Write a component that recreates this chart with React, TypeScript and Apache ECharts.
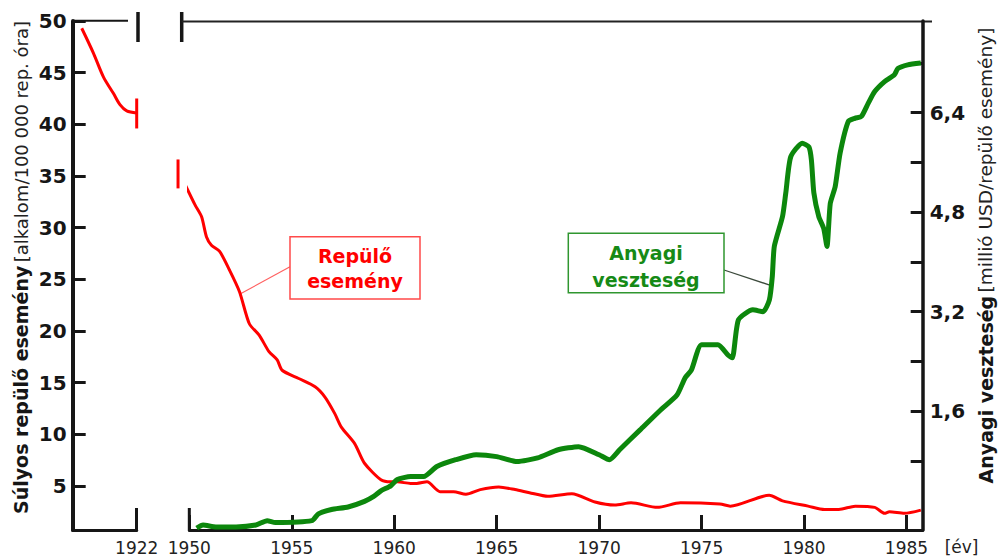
import React, { useEffect, useRef } from 'react';
import * as echarts from 'echarts';

const FONT = '"DejaVu Sans", Verdana, sans-serif';

// Early (pre-break) section of the accident rate curve
const earlyYears = [1919.08, 1919.7, 1920.23, 1920.76, 1921.11, 1921.47, 1922.0];
const earlyRate = [49.3, 46.9, 44.6, 43.0, 41.9, 41.3, 41.1];

// Accident rate (left axis) 1950–1985
const rateYears = [
  1949.45, 1950.28, 1950.6, 1950.84, 1951.08, 1951.48, 1951.96, 1952.45, 1952.93, 1953.41,
  1953.89, 1954.29, 1954.53, 1955.34, 1956.14, 1956.62, 1957.1, 1957.42, 1958.07, 1958.55,
  1959.35, 1959.83, 1960.15, 1960.8, 1961.1, 1961.6, 1962.24, 1962.9, 1963.5, 1964.2,
  1965.1, 1965.9, 1966.6, 1967.5, 1968.67, 1969.8, 1970.76, 1971.56, 1972.84, 1973.97,
  1975.9, 1976.4, 1978.3, 1978.95, 1980.2, 1981.0, 1981.7, 1982.5, 1983.45, 1983.93,
  1984.17, 1984.9, 1985.7,
];
const rateValues = [
  35.6, 32.2, 31.05, 29.1, 28.3, 27.7, 25.9, 23.8, 20.7, 19.6,
  18.0, 17.2, 16.2, 15.4, 14.6, 13.6, 12.0, 10.7, 9.1, 7.2,
  5.6, 5.4, 5.4, 5.25, 5.25, 5.4, 4.45, 4.45, 4.2, 4.65,
  4.9, 4.65, 4.35, 4.0, 4.25, 3.45, 3.15, 3.37, 2.93, 3.37,
  3.25, 3.05, 4.1, 3.56, 3.05, 2.73, 2.73, 3.05, 2.93, 2.35,
  2.5, 2.35, 2.66,
];

// Material loss (right axis)
const lossYears = [
  1950.36, 1950.67, 1951.3, 1952.28, 1953.25, 1953.8, 1954.2, 1955.98, 1956.3, 1956.94,
  1957.75, 1958.55, 1959.0, 1959.35, 1959.83, 1960.15, 1960.8, 1961.44, 1962.08, 1963,
  1964, 1965, 1966, 1967, 1968, 1969, 1970, 1970.5, 1971, 1972,
  1973, 1973.8, 1974.2, 1974.5, 1975, 1975.8, 1976.3, 1976.5, 1976.8, 1977.5,
  1978, 1978.31, 1978.45, 1978.55, 1978.95, 1979.11, 1979.35, 1979.91, 1980.24, 1980.36,
  1980.48, 1980.72, 1980.96, 1981.12, 1981.28, 1981.52, 1981.76, 1982.16, 1982.48, 1982.8,
  1983.13, 1983.45, 1983.93, 1984.41, 1984.58, 1985.06, 1985.7,
];
const lossValues = [
  -0.28, -0.23, -0.26, -0.26, -0.23, -0.16, -0.19, -0.16, -0.05, 0.02,
  0.06, 0.15, 0.23, 0.32, 0.4, 0.5, 0.55, 0.55, 0.71, 0.82,
  0.9, 0.87, 0.79, 0.85, 0.98, 1.03, 0.9, 0.82, 0.98, 1.3,
  1.62, 1.86, 2.14, 2.26, 2.67, 2.67, 2.5, 2.46, 3.07, 3.23,
  3.2, 3.39, 3.76, 4.25, 4.73, 5.11, 5.69, 5.91, 5.85, 5.64,
  5.11, 4.73, 4.54, 4.25, 4.94, 5.21, 5.75, 6.26, 6.31, 6.34,
  6.55, 6.74, 6.9, 7.01, 7.11, 7.17, 7.2,
];

const leftTicks = [5, 10, 15, 20, 25, 30, 35, 40, 45, 50];
const rightTicks = [0.8, 1.6, 2.4, 3.2, 4.0, 4.8, 5.6, 6.4, 7.2];
const rightLabels = [1.6, 3.2, 4.8, 6.4];
const yearTicks = [1950, 1955, 1960, 1965, 1970, 1975, 1980, 1985];
const earlyTicks = [1922];

const BLACK = '#161616';
const RED = '#ff0000';
const GREEN = '#0c870c';

export default function App() {
  const ref = useRef<HTMLDivElement>(null);
  useEffect(() => {
    const chart = echarts.init(ref.current as HTMLDivElement, null, { renderer: 'svg' });
    const pair = (xs: number[], ys: number[]) => xs.map((x, i) => [x, ys[i]]);
    const tickLine = { lineStyle: { color: BLACK, width: 3 } };

    chart.setOption({
      animation: false,
      backgroundColor: '#ffffff',
      grid: [
        { left: 72.7, top: 21, width: 64, height: 509 },
        { left: 189.3, top: 21, width: 742.7, height: 509 },
      ],
      xAxis: [
        {
          gridIndex: 0, type: 'value', min: 1918.6, max: 1922,
          axisLine: { show: true, onZero: false, lineStyle: { color: BLACK, width: 3 } },
          axisTick: { show: true, inside: true, length: 22, customValues: earlyTicks, ...tickLine },
          axisLabel: { customValues: earlyTicks, fontFamily: FONT, fontSize: 17, color: '#222', margin: 9, formatter: (v: number) => String(v) },
          splitLine: { show: false },
        },
        {
          gridIndex: 1, type: 'value', min: 1950, max: 1985.79,
          axisLine: { show: true, onZero: false, lineStyle: { color: BLACK, width: 3 } },
          axisTick: { show: true, inside: true, length: 15, customValues: yearTicks, ...tickLine },
          axisLabel: { customValues: yearTicks, fontFamily: FONT, fontSize: 17, color: '#222', margin: 9, formatter: (v: number) => String(v) },
          splitLine: { show: false },
          name: '[év]', nameLocation: 'end', nameGap: 22,
          nameTextStyle: { fontFamily: FONT, fontSize: 17, color: '#222', verticalAlign: 'top', padding: [8, 0, 0, 0] },
        },
      ],
      yAxis: [
        {
          gridIndex: 0, type: 'value', min: 0.74, max: 50, position: 'left',
          axisLine: { show: true, onZero: false, lineStyle: { color: BLACK, width: 4 } },
          axisTick: { show: true, inside: true, length: 13, customValues: leftTicks, ...tickLine },
          axisLabel: { customValues: leftTicks, fontFamily: FONT, fontSize: 20, fontWeight: 'bold', color: BLACK, margin: 6 },
          splitLine: { show: false },
          name: '{b|Súlyos repülő esemény} {n|[alkalom/100 000 rep. óra]}',
          nameLocation: 'middle', nameRotate: 90, nameGap: 42,
          nameTextStyle: {
            color: BLACK,
            padding: [0, 0, 0, 16],
            rich: {
              b: { fontFamily: FONT, fontSize: 19, fontWeight: 'bold', color: BLACK },
              n: { fontFamily: FONT, fontSize: 18, color: '#222' },
            },
          },
        },
        { gridIndex: 1, type: 'value', min: 0.74, max: 50, show: false },
        {
          gridIndex: 1, type: 'value', min: -0.31, max: 7.875, position: 'right',
          axisLine: { show: true, onZero: false, lineStyle: { color: BLACK, width: 3.5 } },
          axisTick: { show: true, inside: true, length: 12, customValues: rightTicks, ...tickLine },
          axisLabel: {
            customValues: rightLabels, fontFamily: FONT, fontSize: 20, fontWeight: 'bold', color: BLACK, margin: 7,
            formatter: (v: number) => v.toFixed(1).replace('.', ','),
          },
          splitLine: { show: false },
          name: '{b|Anyagi veszteség} {n|[millió USD/repülő esemény]}',
          nameLocation: 'middle', nameRotate: 90, nameGap: 49,
          nameTextStyle: {
            color: BLACK,
            padding: [0, 0, 0, 40],
            rich: {
              b: { fontFamily: FONT, fontSize: 19, fontWeight: 'bold', color: BLACK },
              n: { fontFamily: FONT, fontSize: 18.5, color: '#222' },
            },
          },
        },
      ],
      series: [
        {
          type: 'line', name: 'Repülő esemény (korai)', xAxisIndex: 0, yAxisIndex: 0,
          data: pair(earlyYears, earlyRate), symbol: 'none', smooth: 0.3,
          lineStyle: { color: RED, width: 3 }, clip: false,
        },
        {
          type: 'line', name: 'Repülő esemény', xAxisIndex: 1, yAxisIndex: 1,
          data: pair(rateYears, rateValues), symbol: 'none', smooth: 0.25,
          lineStyle: { color: RED, width: 3 }, clip: false,
        },
        {
          type: 'line', name: 'Anyagi veszteség', xAxisIndex: 1, yAxisIndex: 2,
          data: pair(lossYears, lossValues), symbol: 'none', smooth: 0.2,
          lineStyle: { color: GREEN, width: 5 }, clip: false,
        },
      ],
    });

    const px = (xi: number, yi: number, pt: number[]) =>
      chart.convertToPixel({ xAxisIndex: xi, yAxisIndex: yi } as any, pt) as number[];
    const redEndA = px(0, 0, [1922, 42.5]);
    const redEndB = px(0, 0, [1922, 39.6]);
    const redStartA = px(1, 1, [1949.45, 36.6]);
    const redStartB = px(1, 1, [1949.45, 33.8]);
    const redLeader = px(1, 1, [1952.5, 23.6]);
    const greenLeader = px(1, 2, [1978.4, 3.62]);
    const y1950 = px(1, 1, [1950, 0.74]);

    const line = (x1: number, y1: number, x2: number, y2: number, stroke: string, lineWidth: number) => ({
      type: 'line', silent: true, shape: { x1, y1, x2, y2 }, style: { stroke, lineWidth },
    });

    chart.setOption({
      graphic: [
        line(74, 20.7, 128, 20.7, BLACK, 2),
        line(138, 12, 138, 42, BLACK, 3.5),
        line(181.7, 12, 181.7, 42, BLACK, 3.5),
        line(181.7, 21.5, 932, 21.5, '#222', 2),
        line(y1950[0], y1950[1] - 22, y1950[0], y1950[1], BLACK, 3),
        line(redEndA[0], redEndA[1], redEndB[0], redEndB[1], RED, 3),
        line(redStartA[0], redStartA[1], redStartB[0], redStartB[1], RED, 3),
        line(290, 266.7, redLeader[0], redLeader[1], '#ff6060', 1.2),
        line(724, 270, greenLeader[0], greenLeader[1], '#3c4a3c', 1.3),
        {
          type: 'rect', silent: true,
          shape: { x: 290, y: 236.7, width: 130, height: 62.3 },
          style: { fill: '#ffffff', stroke: '#ff4a4a', lineWidth: 1.5 },
        },
        {
          type: 'text', silent: true, x: 355, y: 268.5,
          style: {
            text: 'Repülő\nesemény', fill: RED, fontFamily: FONT, fontSize: 19, fontWeight: 'bold',
            align: 'center', verticalAlign: 'middle', lineHeight: 25,
          },
        },
        {
          type: 'rect', silent: true,
          shape: { x: 568.3, y: 233.3, width: 155.7, height: 59.4 },
          style: { fill: '#ffffff', stroke: '#2f962f', lineWidth: 1.5 },
        },
        {
          type: 'text', silent: true, x: 646, y: 266,
          style: {
            text: 'Anyagi\nveszteség', fill: '#168a16', fontFamily: FONT, fontSize: 19, fontWeight: 'bold',
            align: 'center', verticalAlign: 'middle', lineHeight: 27,
          },
        },
      ],
    });

    return () => chart.dispose();
  }, []);

  return <div ref={ref} style={{ position: 'absolute', left: 0, top: 0, width: 1003, height: 559 }} />;
}
